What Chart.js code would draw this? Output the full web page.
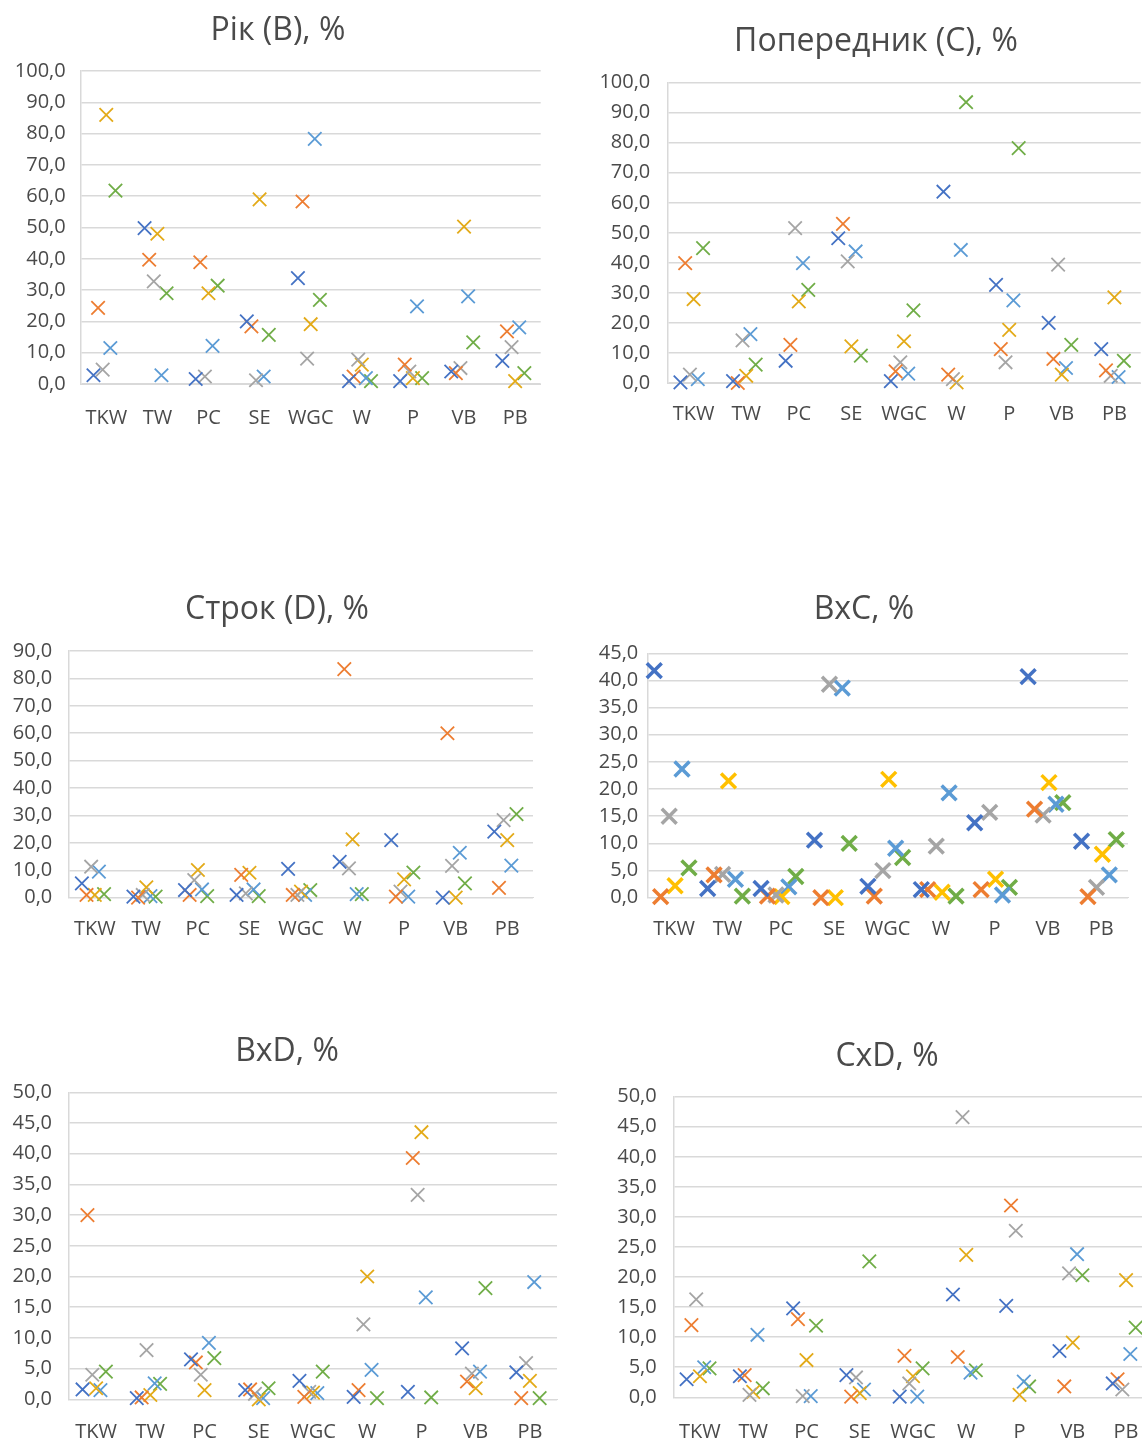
<!DOCTYPE html>
<html>
<head>
<meta charset="utf-8">
<script src="https://cdn.jsdelivr.net/npm/chart.js@4.4.0/dist/chart.umd.min.js"></script>
<style>
  html, body { margin: 0; padding: 0; background: #fff; }
  body { width: 1142px; height: 1439px; overflow: hidden; position: relative; }
  canvas { position: absolute; }
</style>
</head>
<body>
<canvas id="c1"></canvas>
<canvas id="c2"></canvas>
<canvas id="c3"></canvas>
<canvas id="c4"></canvas>
<canvas id="c5"></canvas>
<canvas id="c6"></canvas>
<script>
// категорії (ознаки)
const categories = ["TKW", "TW", "PC", "SE", "WGC", "W", "P", "VB", "PB"];

// Рік (B), % — шість рядів
const rik1 = [2.8, 49.8, 1.6, 20.0, 33.8, 0.9, 0.9, 4.0, 7.4];
const rik2 = [24.3, 39.7, 38.9, 18.4, 58.3, 2.4, 6.2, 3.5, 16.8];
const rik3 = [4.6, 32.8, 2.4, 1.2, 8.1, 7.8, 4.0, 5.1, 11.8];
const rik4 = [86.0, 48.0, 29.0, 59.0, 19.1, 6.2, 1.9, 50.3, 0.9];
const rik5 = [11.5, 2.8, 12.2, 2.4, 78.3, 1.9, 24.8, 28.0, 18.1];
const rik6 = [61.8, 29.0, 31.4, 15.7, 26.9, 0.9, 1.9, 13.3, 3.5];

// Попередник (C), %
const pop1 = [0.2, 0.6, 7.4, 48.2, 0.6, 63.7, 32.7, 20.0, 11.3];
const pop2 = [39.9, 0.0, 12.7, 53.0, 3.9, 2.8, 11.3, 8.0, 4.2];
const pop3 = [2.8, 14.2, 51.6, 40.5, 6.9, 1.3, 6.9, 39.4, 2.4];
const pop4 = [27.9, 2.4, 27.2, 12.2, 13.9, 0.2, 17.7, 2.8, 28.5];
const pop5 = [1.3, 16.3, 39.9, 43.8, 3.1, 44.3, 27.5, 5.0, 2.0];
const pop6 = [44.9, 6.1, 31.0, 9.1, 24.2, 93.5, 78.2, 12.7, 7.4];

// Строк (D), %
const str1 = [5.2, 0.4, 2.8, 1.0, 10.5, 13.1, 21.0, 0.0, 24.1];
const str2 = [1.0, 0.0, 1.0, 8.3, 1.0, 83.4, 0.4, 60.0, 3.6];
const str3 = [11.3, 1.0, 6.4, 1.6, 1.0, 10.7, 2.2, 11.6, 28.3];
const str4 = [1.0, 3.8, 10.1, 9.1, 2.2, 21.3, 6.7, 0.0, 21.0];
const str5 = [9.5, 0.6, 3.0, 3.0, 1.0, 1.3, 0.4, 16.4, 11.7];
const str6 = [1.3, 0.4, 0.6, 0.6, 2.8, 1.3, 9.2, 5.2, 30.5];

// BxC, %
const bc1 = [41.8, 1.7, 1.7, 10.6, 2.1, 1.5, 13.8, 40.7, 10.4];
const bc2 = [0.2, 4.2, 0.3, 0.0, 0.3, 1.5, 1.5, 16.3, 0.2];
const bc3 = [15.0, 4.3, 0.5, 39.3, 5.0, 9.5, 15.7, 15.2, 1.9];
const bc4 = [2.2, 21.5, 0.2, 0.0, 21.8, 1.0, 3.4, 21.2, 8.0];
const bc5 = [23.7, 3.4, 2.0, 38.6, 9.1, 19.3, 0.5, 17.2, 4.2];
const bc6 = [5.5, 0.3, 3.9, 10.0, 7.4, 0.3, 1.9, 17.5, 10.7];

// BxD, %
const bd1 = [1.6, 0.2, 6.5, 1.5, 3.0, 0.4, 1.2, 8.3, 4.4];
const bd2 = [30.0, 0.3, 6.0, 1.6, 0.4, 1.5, 39.3, 2.9, 0.2];
const bd3 = [4.0, 8.0, 4.0, 0.9, 1.2, 12.2, 33.3, 4.2, 5.9];
const bd4 = [1.8, 0.7, 1.5, 0.0, 1.1, 20.0, 43.5, 1.8, 3.0];
const bd5 = [1.5, 2.6, 9.2, 0.2, 1.0, 4.8, 16.6, 4.5, 19.1];
const bd6 = [4.5, 2.5, 6.7, 1.8, 4.5, 0.2, 0.3, 18.1, 0.2];

// CxD, %
const cd1 = [3.0, 3.5, 14.8, 3.7, 0.1, 17.1, 15.2, 7.7, 2.3];
const cd2 = [12.0, 3.7, 13.0, 0.1, 6.9, 6.7, 31.9, 1.8, 3.0];
const cd3 = [16.3, 0.4, 0.2, 3.3, 2.3, 46.6, 27.7, 20.6, 1.3];
const cd4 = [3.5, 0.9, 6.2, 0.7, 3.5, 23.7, 0.4, 9.1, 19.5];
const cd5 = [5.0, 10.4, 0.2, 1.3, 0.1, 4.1, 2.6, 23.8, 7.2];
const cd6 = [4.8, 1.5, 11.9, 22.6, 4.8, 4.5, 1.8, 20.3, 11.6];

const thinColors = ["#4472C4", "#ED7D31", "#A5A5A5", "#E3AA18", "#5B9BD5", "#70AD47"];
const boldColors = ["#4472C4", "#ED7D31", "#A5A5A5", "#FFC000", "#5B9BD5", "#70AD47"];
const thinShift = [-0.25, -0.16, -0.07, 0, 0.08, 0.18];
const boldShift = [-0.37, -0.25, -0.09, 0.02, 0.15, 0.28];

const FONT = "'Open Sans', sans-serif";
const TEXT = "#4a4a4a";
const fmt = v => v.toFixed(1).replace(".", ",");

function makeChart(id, box, title, series, yMax, yStep, bold) {
  const cv = document.getElementById(id);
  cv.width = box.w;
  cv.height = box.h;
  cv.style.left = box.x + "px";
  cv.style.top = box.y + "px";

  const colors = bold ? boldColors : thinColors;
  const shift = bold ? boldShift : thinShift;

  const datasets = series.map((vals, s) => ({
    data: vals.map((v, i) => ({ x: i + shift[s], y: v })),
    yAxisID: "y",
    showLine: false,
    pointStyle: "crossRot",
    pointRadius: bold ? 10.5 : 9.5,
    pointBorderWidth: bold ? 3.5 : 1.8,
    borderColor: colors[s],
    backgroundColor: colors[s],
    clip: false
  }));

  new Chart(cv, {
    type: "scatter",
    data: { datasets },
    options: {
      responsive: false,
      animation: false,
      events: [],
      layout: { padding: 0 },
      plugins: {
        legend: { display: false },
        tooltip: { enabled: false },
        title: {
          display: true,
          text: title,
          color: TEXT,
          font: { family: FONT, size: 32, weight: "normal" },
          padding: { top: box.tTop, bottom: box.tBot }
        }
      },
      scales: {
        x: {
          type: "linear",
          min: -0.5,
          max: 8.5,
          afterBuildTicks: sc => { sc.ticks = categories.map((c, i) => ({ value: i })); },
          afterFit: sc => { sc.height = box.xH; },
          grid: { display: false },
          border: { display: true, color: "#D9D9D9", width: 1 },
          ticks: {
            autoSkip: false,
            maxRotation: 0,
            padding: box.xPad,
            color: TEXT,
            font: { family: FONT, size: 20 },
            callback: v => categories[v]
          }
        },
        y: {
          min: 0,
          max: yMax,
          afterFit: sc => { sc.width = box.yW; },
          grid: { color: "#D9D9D9", lineWidth: 1.5, drawTicks: false },
          border: { display: true, color: "#D9D9D9", width: 1.5 },
          ticks: {
            stepSize: yStep,
            padding: box.yPad,
            color: TEXT,
            font: { family: FONT, size: 20 },
            callback: v => fmt(v)
          }
        },
        // порожня права вісь — лише відступ праворуч, щоб заголовок лишався по центру полотна
        yr: {
          position: "right",
          afterFit: sc => { sc.width = box.rGap; },
          grid: { display: false },
          border: { display: false },
          ticks: { display: false }
        }
      }
    }
  });
}

makeChart("c1", { x: 0, y: 0, w: 556, h: 434, rGap: 15.3, yW: 80.7, xH: 50, tTop: 11.5, tBot: 21.1, xPad: 14.6, yPad: 15 },
  "Рік (B), %", [rik1, rik2, rik3, rik4, rik5, rik6], 100, 10, false);

makeChart("c2", { x: 600, y: 0, w: 552, h: 434, rGap: 1.4, yW: 67.3, xH: 51, tTop: 22.8, tBot: 21.5, xPad: 11.3, yPad: 17 },
  "Попередник (C), %", [pop1, pop2, pop3, pop4, pop5, pop6], 100, 10, false);

makeChart("c3", { x: 0, y: 570, w: 554, h: 380, rGap: 21, yW: 69, xH: 52.3, tTop: 21, tBot: 21.6, xPad: 11.6, yPad: 16.7 },
  "Строк (D), %", [str1, str2, str3, str4, str5, str6], 90, 10, false);

makeChart("c4", { x: 586, y: 570, w: 556, h: 380, rGap: 7, yW: 61.3, xH: 52.3, tTop: 21, tBot: 23.9, xPad: 11.6, yPad: 9 },
  "BxC, %", [bc1, bc2, bc3, bc4, bc5, bc6], 45, 5, true);

makeChart("c5", { x: 0, y: 1010, w: 574, h: 460, rGap: 17, yW: 69, xH: 70.7, tTop: 23, tBot: 20.9, xPad: 13.3, yPad: 17 },
  "BxD, %", [bd1, bd2, bd3, bd4, bd5, bd6], 50, 5, false);

makeChart("c6", { x: 610, y: 1010, w: 554, h: 460, rGap: 8.3, yW: 63.3, xH: 72.7, tTop: 28, tBot: 20.3, xPad: 15.3, yPad: 16.6 },
  "CxD, %", [cd1, cd2, cd3, cd4, cd5, cd6], 50, 5, false);
</script>
</body>
</html>
